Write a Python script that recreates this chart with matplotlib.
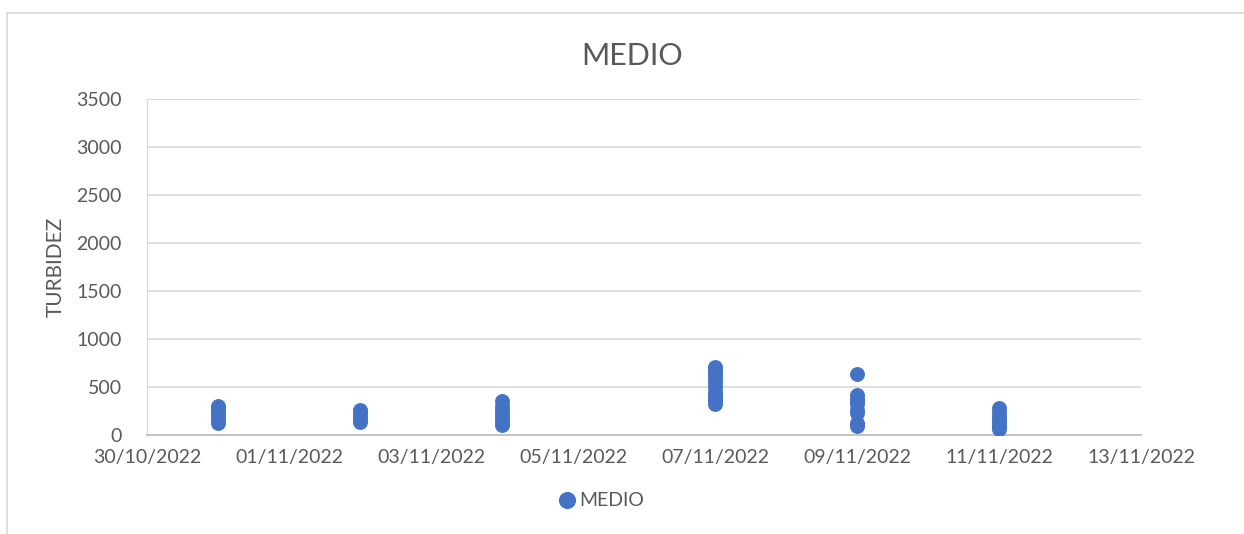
import numpy as np
import matplotlib
matplotlib.use("Agg")
import matplotlib.pyplot as plt
import matplotlib.dates as mdates
from matplotlib.patches import Rectangle
from datetime import datetime

plt.rcParams['font.family'] = ['Lato', 'DejaVu Sans']

# sampling days and turbidity readings (MEDIO)
days = ["31/10/2022", "02/11/2022", "04/11/2022", "07/11/2022", "09/11/2022", "11/11/2022"]
medio_31 = [130, 160, 190, 220, 250, 280, 300]
medio_02 = [140, 160, 190, 220, 250, 260]
medio_04 = [100, 120, 150, 190, 230, 260, 300, 350]
medio_07 = [320, 350, 380, 410, 450, 500, 540, 580, 620, 660, 700, 713]
medio_09 = [90, 100, 120, 230, 260, 320, 350, 380, 420, 635]
medio_11 = [60, 80, 110, 140, 170, 200, 240, 280]
groups = [medio_31, medio_02, medio_04, medio_07, medio_09, medio_11]

xs, ys = [], []
for d, vals in zip(days, groups):
    dt = datetime.strptime(d, "%d/%m/%Y")
    xs += [dt] * len(vals)
    ys += vals

txt = '#595959'
fig = plt.figure(figsize=(12.44, 5.34), dpi=100)
fig.patches.append(Rectangle((7/1244, -0.1), 1.2, (534-13)/534 + 0.1, transform=fig.transFigure,
                             fill=False, edgecolor='#d9d9d9', linewidth=1.2))
ax = fig.add_axes([147/1244, (534-435)/534, (1141-147)/1244, (435-99)/534])

ax.scatter(xs, ys, s=115, color='#4472C4', zorder=3, label='MEDIO', linewidths=0)

ax.set_ylim(0, 3500)
ax.set_yticks(np.arange(0, 3501, 500))
ax.set_xlim(datetime(2022, 10, 30), datetime(2022, 11, 13))
ax.xaxis.set_major_locator(mdates.DayLocator(interval=2))
ax.xaxis.set_major_formatter(mdates.DateFormatter('%d/%m/%Y'))
ax.grid(axis='y', color='#d9d9d9', linewidth=1.2)
ax.set_axisbelow(True)
for s in ['top', 'right']:
    ax.spines[s].set_visible(False)
ax.spines['left'].set_color('#d9d9d9')
ax.spines['bottom'].set_color('#bfbfbf')
ax.spines['bottom'].set_linewidth(1.3)
ax.tick_params(length=0, labelsize=14, colors=txt, pad=10)
ax.tick_params(axis='y', pad=18)

ax.set_ylabel('TURBIDEZ', fontsize=15, color=txt, labelpad=8)
fig.text(632/1244, (534-56)/534, 'MEDIO', fontsize=22, color=txt, ha='center', va='center')

ax.legend(loc='center', bbox_to_anchor=(596/1244, (534-500)/534), bbox_transform=fig.transFigure,
          frameon=False, fontsize=14, labelcolor=txt, handletextpad=-0.4, markerscale=1.15)

fig.savefig('out.png', dpi=100)
